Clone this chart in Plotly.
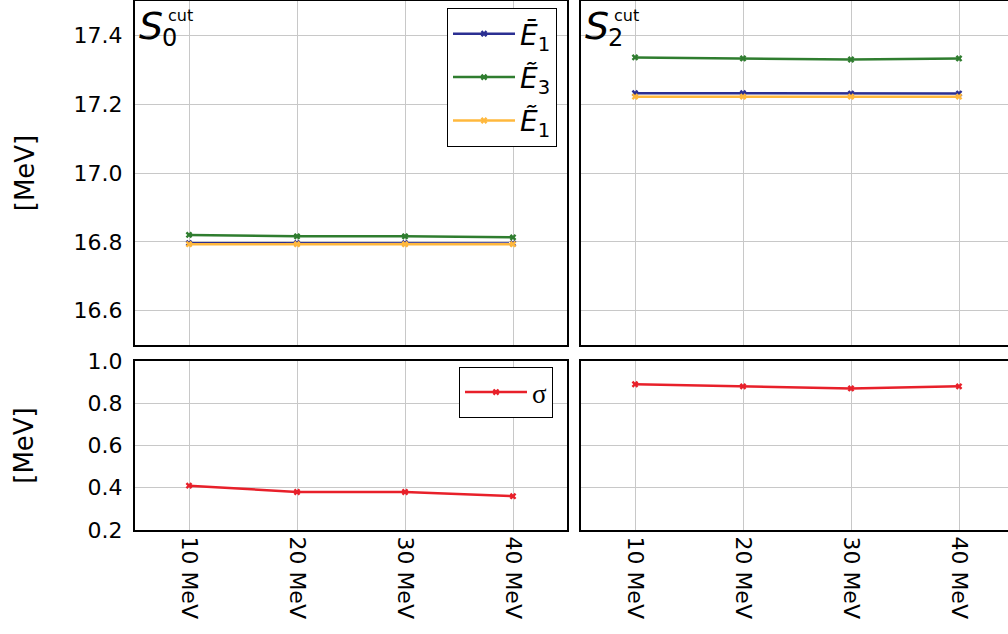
import plotly.graph_objects as go

energies = [10, 20, 30, 40]
energy_labels = ["10 MeV", "20 MeV", "30 MeV", "40 MeV"]

s0_E1bar = [16.796, 16.796, 16.796, 16.795]
s0_E3 = [16.820, 16.816, 16.816, 16.813]
s0_E1tilde = [16.793, 16.793, 16.793, 16.793]

s2_E1bar = [17.232, 17.232, 17.231, 17.231]
s2_E3 = [17.336, 17.333, 17.330, 17.333]
s2_E1tilde = [17.222, 17.222, 17.222, 17.222]

sigma_s0 = [0.41, 0.38, 0.38, 0.36]
sigma_s2 = [0.89, 0.88, 0.87, 0.88]

series_names = ["<i>Ē</i><sub>1</sub>", "<i>Ẽ</i><sub>3</sub>", "<i>Ẽ</i><sub>1</sub>"]
colors = ["#2b2f92", "#2f7d2f", "#ffb83d"]
red = "#e8202a"

W, H = 1008, 634
ml, mr, mt, mb = 135, 0, 1, 104
pw = W - ml - mr
ph = H - mt - mb


def px_x(x):
    return (x - ml) / pw


def px_y(y):
    return (H - mb - y) / ph


fig = go.Figure()

top_sets = [(s0_E1bar, s0_E3, s0_E1tilde, "x", "y", True),
            (s2_E1bar, s2_E3, s2_E1tilde, "x2", "y2", False)]
for e1b, e3, e1t, xa, ya, show in top_sets:
    for vals, name, col in zip([e1b, e3, e1t], series_names, colors):
        fig.add_trace(go.Scatter(
            x=energies, y=vals, mode="lines+markers", name=name,
            line=dict(color=col, width=2.5),
            marker=dict(symbol="x", size=6, color=col, line=dict(width=0)),
            xaxis=xa, yaxis=ya, showlegend=show, legendgroup=name, legend="legend"))

for vals, xa, ya, show in [(sigma_s0, "x3", "y3", True), (sigma_s2, "x4", "y4", False)]:
    fig.add_trace(go.Scatter(
        x=energies, y=vals, mode="lines+markers", name="σ",
        line=dict(color=red, width=2.5),
        marker=dict(symbol="x", size=6, color=red, line=dict(width=0)),
        xaxis=xa, yaxis=ya, showlegend=show, legend="legend2"))

grid = "#c8c8c8"
tickfont = dict(family="DejaVu Sans", size=22, color="black")

left_dom = [0, px_x(567)]
right_dom = [px_x(581), 1.0]
top_dom = [px_y(345), 1.0]
bot_dom = [0, px_y(361)]

common_x = dict(showline=True, linecolor="black", linewidth=2, mirror=True,
                showgrid=True, gridcolor=grid, gridwidth=1, zeroline=False,
                tickvals=energies, ticktext=energy_labels, tickfont=tickfont,
                ticks="", tickangle=90, automargin=False)
common_y = dict(showline=True, linecolor="black", linewidth=2,
                showgrid=True, gridcolor=grid, gridwidth=1, zeroline=False,
                tickfont=tickfont, ticks="inside", ticklen=5, tickcolor=grid,
                ticklabelstandoff=6, automargin=False)
title_font = dict(family="DejaVu Sans", size=26)

fig.update_layout(
    width=W, height=H,
    margin=dict(l=ml, r=mr, t=mt, b=mb, autoexpand=False),
    paper_bgcolor="white", plot_bgcolor="white",
    font=dict(family="DejaVu Sans", color="black"),
    xaxis=dict(common_x, domain=left_dom, range=[5, 45], anchor="y", showticklabels=False),
    yaxis=dict(common_y, domain=top_dom, range=[16.5, 17.5], anchor="x", mirror=True,
               tickvals=[16.6, 16.8, 17.0, 17.2, 17.4], tickformat=".1f",
               title=dict(text="[MeV]", font=title_font, standoff=32)),
    xaxis2=dict(common_x, domain=right_dom, range=[5, 5 + (1008 - 581) / 10.8], anchor="y2",
                showticklabels=False),
    yaxis2=dict(common_y, domain=top_dom, range=[16.5, 17.5], anchor="x2", mirror=False,
                tickvals=[16.6, 16.8, 17.0, 17.2, 17.4], showticklabels=False),
    xaxis3=dict(common_x, domain=left_dom, range=[5, 45], anchor="y3"),
    yaxis3=dict(common_y, domain=bot_dom, range=[0.2, 1.0], anchor="x3", mirror=True,
                tickvals=[0.2, 0.4, 0.6, 0.8, 1.0], tickformat=".1f",
                title=dict(text="[MeV]", font=title_font, standoff=46)),
    xaxis4=dict(common_x, domain=right_dom, range=[5, 5 + (1008 - 581) / 10.8], anchor="y4"),
    yaxis4=dict(common_y, domain=bot_dom, range=[0.2, 1.0], anchor="x4", mirror=False,
                tickvals=[0.2, 0.4, 0.6, 0.8, 1.0], showticklabels=False),
    legend=dict(x=px_x(557), y=px_y(8), xanchor="right", yanchor="top",
                bgcolor="white", bordercolor="black", borderwidth=1,
                font=dict(family="DejaVu Sans", size=28), tracegroupgap=4,
                traceorder="grouped", itemwidth=62),
    legend2=dict(x=px_x(553), y=px_y(367), xanchor="right", yanchor="top",
                 bgcolor="white", bordercolor="black", borderwidth=1,
                 font=dict(family="Liberation Serif", size=27), itemwidth=62),
)

# panel labels S_0^cut and S_2^cut
pw_top = 567 - 135
ph_top = 345 - 1


def fx(px):
    return px / pw_top


def fy(py):
    return 1 - py / ph_top


for xref, yref, sub in [("x domain", "y domain", "0"), ("x2 domain", "y2 domain", "2")]:
    fig.add_annotation(text="<i>S</i>", xref=xref, yref=yref, x=fx(2), y=fy(25),
                       xanchor="left", yanchor="middle", showarrow=False,
                       font=dict(family="DejaVu Sans", size=38, color="black"))
    fig.add_annotation(text=sub, xref=xref, yref=yref, x=fx(25), y=fy(37),
                       xanchor="left", yanchor="middle", showarrow=False,
                       font=dict(family="DejaVu Sans", size=24, color="black"))
    fig.add_annotation(text="cut", xref=xref, yref=yref, x=fx(31), y=fy(15),
                       xanchor="left", yanchor="middle", showarrow=False,
                       font=dict(family="DejaVu Sans", size=16, color="black"))

fig.write_html("out.html", config={"displayModeBar": False},
               post_script="document.body.style.margin='0';document.body.style.overflow='hidden';")
